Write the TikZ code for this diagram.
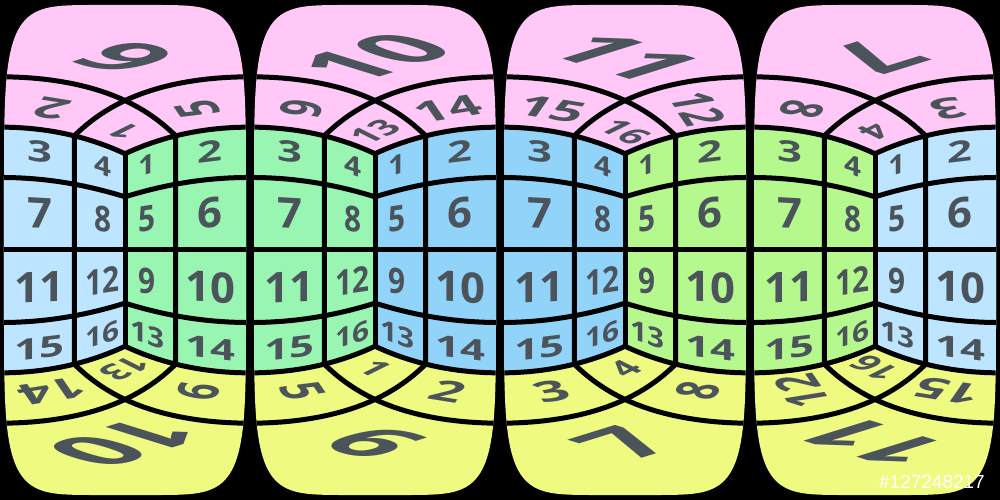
\documentclass[tikz,border=0pt]{standalone}
\usepackage{fontspec}
\setmainfont{Open Sans}
\newfontfamily\tagfont{Liberation Sans}

\definecolor{capPink}{HTML}{FFC8F7}
\definecolor{capYellow}{HTML}{EEFA80}
\definecolor{faceSky}{HTML}{BDE5FF}
\definecolor{faceMint}{HTML}{98F6B2}
\definecolor{faceBlue}{HTML}{92D3FA}
\definecolor{faceLime}{HTML}{B5F98E}
\definecolor{digitGray}{HTML}{4B535B}

\def\sx{2.75}
\def\sy{2.73}
\def\hh{0.03}
\def\kk{0.49}
\def\cx{125}
\pgfmathdeclarefunction{prx}{2}{\pgfmathparse{\cx+\sx*atan2((#2)-(#1),(#1)+(#2))}}
\pgfmathdeclarefunction{pry}{3}{\pgfmathparse{250+\sy*atan2(#3,sqrt((#1)*(#1)+(#2)*(#2)))}}

\tikzset{
  cubeline/.style={line width=5pt, line join=round},
  digit/.style={transform shape, inner sep=0pt, text=digitGray, font=\bfseries\fontsize{10}{12}\selectfont},
}

\newcommand\setdir[6]{\def\Rp{#1}\def\Rq{#2}\def\Rr{#3}\def\Up{#4}\def\Uq{#5}\def\Ur{#6}}

\newcommand\cubelabel[5]{%
  \pgfmathsetmacro\xa{prx(#1,#2)}%
  \pgfmathsetmacro\ya{pry(#1,#2,#3)}%
  \pgfmathsetmacro\ma{\kk*(prx(#1+\hh*(\Rp),#2+\hh*(\Rq))-prx(#1-\hh*(\Rp),#2-\hh*(\Rq)))}%
  \pgfmathsetmacro\mb{\kk*(pry(#1+\hh*(\Rp),#2+\hh*(\Rq),#3+\hh*(\Rr))-pry(#1-\hh*(\Rp),#2-\hh*(\Rq),#3-\hh*(\Rr)))}%
  \pgfmathsetmacro\mc{\kk*(prx(#1+\hh*(\Up),#2+\hh*(\Uq))-prx(#1-\hh*(\Up),#2-\hh*(\Uq)))}%
  \pgfmathsetmacro\md{\kk*(pry(#1+\hh*(\Up),#2+\hh*(\Uq),#3+\hh*(\Ur))-pry(#1-\hh*(\Up),#2-\hh*(\Uq),#3-\hh*(\Ur)))}%
  \begin{scope}[cm={\ma,\mb,\mc,\md,(\xa,\ya)}]
    \node[digit] (#5) at (0,0) {#4};
  \end{scope}}

\newcommand\drawpanel[3]{%
  \begin{scope}
    \clip plot[domain=1.5:361.5, samples=121, variable=\aa]
      ({\cx+121*sign(cos(\aa))*abs(cos(\aa))^(1/3)}, {250+245*sign(sin(\aa))*abs(sin(\aa))^(1/3)}) -- cycle;
    \fill[capPink] (\cx-130,250) rectangle (\cx+130,500);
    \fill[capYellow] (\cx-130,0) rectangle (\cx+130,250);
    \fill[#1] plot[domain=-0.2:1, samples=40, variable=\uu] ({prx(1,\uu)},{pry(1,\uu,1)})
      -- plot[domain=1:-0.2, samples=40, variable=\uu] ({prx(1,\uu)},{pry(1,\uu,-1)}) -- cycle;
    \fill[#2] plot[domain=1:-0.2, samples=40, variable=\uu] ({prx(\uu,1)},{pry(\uu,1,1)})
      -- plot[domain=-0.2:1, samples=40, variable=\uu] ({prx(\uu,1)},{pry(\uu,1,-1)}) -- cycle;
    \foreach \vv in {1,0.5,-0.5,-1}
      \draw[cubeline] plot[domain=-0.2:1, samples=40, variable=\uu] ({prx(1,\uu)},{pry(1,\uu,\vv)})
        -- plot[domain=1:-0.2, samples=40, variable=\uu] ({prx(\uu,1)},{pry(\uu,1,\vv)});
    \draw[cubeline] (\cx-130,250) -- (\cx+130,250);
    \draw[cubeline] ({prx(1,1)},{pry(1,1,1)}) -- ({prx(1,1)},{pry(1,1,-1)});
    \draw[cubeline] plot[domain=-0.3:1, samples=40, variable=\ss] ({prx(\ss,0.5)},{pry(\ss,0.5,1)})
      -- plot[domain=1:-0.3, samples=40, variable=\ss] ({prx(\ss,0.5)},{pry(\ss,0.5,-1)});
    \draw[cubeline] plot[domain=-0.3:1, samples=40, variable=\ss] ({prx(0.5,\ss)},{pry(0.5,\ss,1)})
      -- plot[domain=1:-0.3, samples=40, variable=\ss] ({prx(0.5,\ss)},{pry(0.5,\ss,-1)});
  \end{scope}
  \setdir{0}{1}{0}{0}{0}{1}
  \cubelabel{1}{0.25}{0.75}{3}{#3-l3}
  \cubelabel{1}{0.75}{0.75}{4}{#3-l4}
  \cubelabel{1}{0.25}{0.25}{7}{#3-l7}
  \cubelabel{1}{0.75}{0.25}{8}{#3-l8}
  \cubelabel{1}{0.25}{-0.25}{11}{#3-l11}
  \cubelabel{1}{0.75}{-0.25}{12}{#3-l12}
  \cubelabel{1}{0.25}{-0.75}{15}{#3-l15}
  \cubelabel{1}{0.75}{-0.75}{16}{#3-l16}
  \setdir{-1}{0}{0}{0}{0}{1}
  \cubelabel{0.75}{1}{0.75}{1}{#3-r1}
  \cubelabel{0.25}{1}{0.75}{2}{#3-r2}
  \cubelabel{0.75}{1}{0.25}{5}{#3-r5}
  \cubelabel{0.25}{1}{0.25}{6}{#3-r6}
  \cubelabel{0.75}{1}{-0.25}{9}{#3-r9}
  \cubelabel{0.25}{1}{-0.25}{10}{#3-r10}
  \cubelabel{0.75}{1}{-0.75}{13}{#3-r13}
  \cubelabel{0.25}{1}{-0.75}{14}{#3-r14}}

\begin{document}
\begin{tikzpicture}[x=1pt, y=1pt]
  \useasboundingbox (0,0) rectangle (1000,500);
  \fill[black] (0,0) rectangle (1000,500);

  \def\cx{125}
  \drawpanel{faceSky}{faceMint}{p1}
  \setdir{0}{-1}{0}{1}{0}{0}
  \cubelabel{0.75}{0.75}{1}{1}{p1-t1}
  \cubelabel{0.75}{0.25}{1}{2}{p1-t2}
  \cubelabel{0.25}{0.75}{1}{5}{p1-t5}
  \cubelabel{0.25}{0.25}{1}{6}{p1-t6}
  \setdir{0}{-1}{0}{-1}{0}{0}
  \cubelabel{0.75}{0.75}{-1}{13}{p1-b13}
  \cubelabel{0.75}{0.25}{-1}{14}{p1-b14}
  \cubelabel{0.25}{0.75}{-1}{9}{p1-b9}
  \cubelabel{0.25}{0.25}{-1}{10}{p1-b10}

  \def\cx{375}
  \drawpanel{faceMint}{faceBlue}{p2}
  \setdir{-1}{0}{0}{0}{-1}{0}
  \cubelabel{0.75}{0.75}{1}{13}{p2-t13}
  \cubelabel{0.75}{0.25}{1}{9}{p2-t9}
  \cubelabel{0.25}{0.75}{1}{14}{p2-t14}
  \cubelabel{0.25}{0.25}{1}{10}{p2-t10}
  \setdir{-1}{0}{0}{0}{1}{0}
  \cubelabel{0.75}{0.75}{-1}{1}{p2-b1}
  \cubelabel{0.75}{0.25}{-1}{5}{p2-b5}
  \cubelabel{0.25}{0.75}{-1}{2}{p2-b2}
  \cubelabel{0.25}{0.25}{-1}{6}{p2-b6}

  \def\cx{625}
  \drawpanel{faceBlue}{faceLime}{p3}
  \setdir{0}{1}{0}{-1}{0}{0}
  \cubelabel{0.75}{0.75}{1}{16}{p3-t16}
  \cubelabel{0.75}{0.25}{1}{15}{p3-t15}
  \cubelabel{0.25}{0.75}{1}{12}{p3-t12}
  \cubelabel{0.25}{0.25}{1}{11}{p3-t11}
  \setdir{0}{1}{0}{1}{0}{0}
  \cubelabel{0.75}{0.75}{-1}{4}{p3-b4}
  \cubelabel{0.75}{0.25}{-1}{3}{p3-b3}
  \cubelabel{0.25}{0.75}{-1}{8}{p3-b8}
  \cubelabel{0.25}{0.25}{-1}{7}{p3-b7}

  \def\cx{875}
  \drawpanel{faceLime}{faceSky}{p4}
  \setdir{1}{0}{0}{0}{1}{0}
  \cubelabel{0.75}{0.75}{1}{4}{p4-t4}
  \cubelabel{0.75}{0.25}{1}{8}{p4-t8}
  \cubelabel{0.25}{0.75}{1}{3}{p4-t3}
  \cubelabel{0.25}{0.25}{1}{7}{p4-t7}
  \setdir{1}{0}{0}{0}{-1}{0}
  \cubelabel{0.75}{0.75}{-1}{16}{p4-b16}
  \cubelabel{0.75}{0.25}{-1}{12}{p4-b12}
  \cubelabel{0.25}{0.75}{-1}{15}{p4-b15}
  \cubelabel{0.25}{0.25}{-1}{11}{p4-b11}

  \node[anchor=east, inner sep=0pt, text=white, font=\tagfont\fontsize{19}{19}\selectfont] (stockid) at (985,18) {\#127248217};
\end{tikzpicture}
\end{document}
